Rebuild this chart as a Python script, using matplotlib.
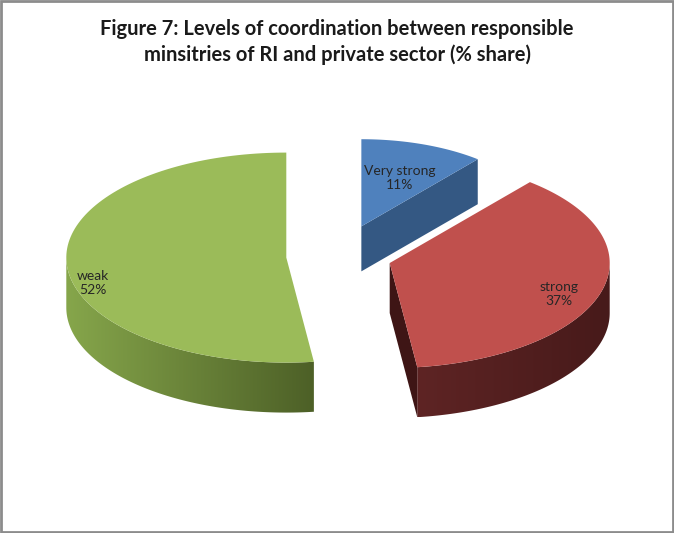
import numpy as np
import matplotlib.pyplot as plt
from matplotlib.colors import to_rgb
from matplotlib.patches import Polygon, Rectangle

# data
labels = ["Very strong", "strong", "weak"]
shares = [11, 37, 52]

# looks
top_colors = ["#4f81bd", "#c0504d", "#9bbb59"]
cut_colors = ["#345883", "#3e1515", "#4f6228"]
wall_light = ["#3d6594", "#5e2424", "#86a64b"]
wall_dark = ["#2c4a6e", "#471a1a", "#4d6027"]
explode = [0.3, 0.24, 0.24]
size = [0.83, 1.0, 1.0]
label_r = [0.62, 0.8, 0.88]
label_dy = [2, 8, 20]

cx, cy = 339, 256
rx, ry = 220, 105
depth = 50

title = ("Figure 7: Levels of coordination between responsible\n"
         "minsitries of RI and private sector (% share)")


def pt(c, t, r=1.0):
  t = np.radians(t)
  return c[0] + r * rx * np.sin(t), c[1] - r * ry * np.cos(t)


fig = plt.figure(figsize=(6.74, 5.33), dpi=100)
ax = fig.add_axes([0, 0, 1, 1])
ax.set_xlim(0, 674)
ax.set_ylim(533, 0)
ax.axis("off")

angles = np.concatenate([[0], np.cumsum(shares) / np.sum(shares) * 360])
slices = []
for i in range(len(shares)):
  a0, a1 = angles[i], angles[i + 1]
  mid = (a0 + a1) / 2
  c = pt((cx, cy), mid, explode[i])
  slices.append((c[1], i, a0, a1, mid, c))

# back to front
for _, i, a0, a1, mid, c in sorted(slices):
  s = size[i]
  d = depth * (0.9 if s < 1 else 1.0)
  # cut faces
  for a, vis in [(a0, np.sin(np.radians(a0)) < -1e-6), (a1, np.sin(np.radians(a1)) > 1e-6)]:
    if vis:
      x, y = pt(c, a, s)
      quad = [c, (x, y), (x, y + d), (c[0], c[1] + d)]
      ax.add_patch(Polygon(quad, closed=True, facecolor=cut_colors[i], edgecolor="none"))
  # outer wall with a left-to-right gradient
  w0, w1 = max(a0, 90), min(a1, 270)
  if w1 > w0:
    ts = np.linspace(w0, w1, 120)
    upper = [pt(c, t, s) for t in ts]
    lower = [(x, y + d) for x, y in upper[::-1]]
    wall = Polygon(upper + lower, closed=True, facecolor="none", edgecolor="none")
    ax.add_patch(wall)
    xs = [p[0] for p in upper]
    ys = [p[1] for p in upper]
    u = np.linspace(0, 1, 256)
    grad = (np.outer(1 - u, to_rgb(wall_light[i])) + np.outer(u, to_rgb(wall_dark[i])))[None, :, :]
    im = ax.imshow(grad, extent=[min(xs), max(xs), max(ys) + d, min(ys)],
                   aspect="auto", interpolation="bilinear")
    im.set_clip_path(wall)
  # top
  ts = np.linspace(a0, a1, 120)
  top = [c] + [pt(c, t, s) for t in ts]
  ax.add_patch(Polygon(top, closed=True, facecolor=top_colors[i], edgecolor="none"))
  # label
  lx, ly = pt(c, mid, label_r[i] * s)
  ax.text(lx, ly + label_dy[i], "%s\n%d%%" % (labels[i], shares[i]), ha="center", va="center",
          fontsize=10, family="Lato", color="#262626", linespacing=1.2)

ax.set_xlim(0, 674)
ax.set_ylim(533, 0)

fig.text(0.5, 0.921, title, ha="center", va="center", fontsize=14.5, fontweight="bold",
         family="Lato", color="#1a1a1a", linespacing=1.3)

fig.patches.append(Rectangle((0.002, 0.002), 0.996, 0.996, transform=fig.transFigure,
                             fill=False, edgecolor="#8c8c8c", linewidth=2))

plt.savefig("out.png", dpi=100)
